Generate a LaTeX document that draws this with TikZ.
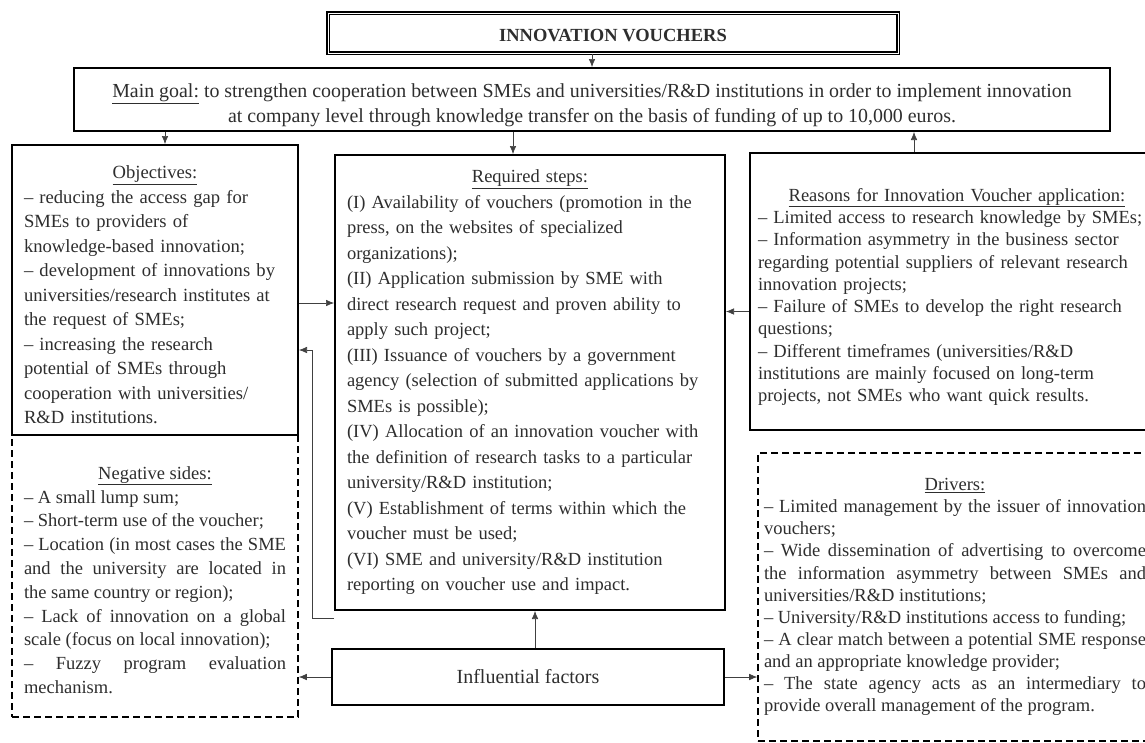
\documentclass[tikz,border=0pt]{standalone}
\usepackage{fontspec}
\setmainfont{Liberation Serif}
\usepackage{tikz}
\usetikzlibrary{arrows.meta}
\setlength{\parindent}{0pt}
\definecolor{inkgray}{HTML}{2E2E2E}

\begin{document}
\begin{tikzpicture}[x=1pt, y=-1pt,
		box/.style={draw=black, line width=1.6pt, text=inkgray, inner sep=0pt},
		dashbox/.style={box, dash pattern=on 7pt off 4pt},
		bodytext/.style={font=\fontsize{18.5}{25.3}\selectfont},
		link/.style={-{Latex[length=8pt, width=6.5pt]}, draw=black!75, line width=0.6pt}]
		\useasboundingbox[fill=white] (0,0) rectangle (1145,742);
		% Boxes:
		\node[box, double=white, double distance=1pt, line width=1.5pt, minimum width=570, minimum height=40, text height=17pt, font=\fontsize{18.5}{22}\selectfont\bfseries](title) at (613, 33){INNOVATION VOUCHERS};
		\node[box, line width=2pt, align=center, minimum width=1036, minimum height=63, text height=50pt, font=\fontsize{19.9}{25}\selectfont](main) at (592, 99.5){\underline{Main goal:} to strengthen cooperation between SMEs and universities/R\&D institutions in order to implement innovation\\at company level through knowledge transfer on the basis of funding of up to 10,000 euros.};
		\node[box, line width=2pt, text width=262pt, align=left, minimum width=286, minimum height=290, text height=23pt, font=\fontsize{18.6}{24.5}\selectfont](obj) at (155, 290){\makebox[\hsize]{\underline{Objectives:}}\\
			-- reducing the access gap for\\SMEs to providers of\\knowledge-based innovation;\\
			-- development of innovations by\\universities/research institutes at\\the request of SMEs;\\
			-- increasing the research\\potential of SMEs through\\cooperation with universities/\\R\&D institutions.};
		\node[box, line width=2pt, text width=366pt, align=left, minimum width=390, minimum height=455, font=\fontsize{18.5}{25.5}\selectfont](req) at (530, 382.5){\makebox[\hsize]{\underline{Required steps:}}\\
			(I) Availability of vouchers (promotion in the\\press, on the websites of specialized\\organizations);\\
			(II) Application submission by SME with\\direct research request and proven ability to\\apply such project;\\
			(III) Issuance of vouchers by a government\\agency (selection of submitted applications by\\SMEs is possible);\\
			(IV) Allocation of an innovation voucher with\\the definition of research tasks to a particular\\university/R\&D institution;\\
			(V) Establishment of terms within which the\\voucher must be used;\\
			(VI) SME and university/R\&D institution\\reporting on voucher use and impact.};
		\node[box, text width=398pt, align=left, minimum width=414, minimum height=277, text height=24pt, font=\fontsize{18.5}{22.3}\selectfont](reas) at (957, 291.5){\makebox[\hsize]{\underline{Reasons for Innovation Voucher application:}}\\
			-- Limited access to research knowledge by SMEs;\\
			-- Information asymmetry in the business sector\\regarding potential suppliers of relevant research\\innovation projects;\\
			-- Failure of SMEs to develop the right research\\questions;\\
			-- Different timeframes (universities/R\&D\\institutions are mainly focused on long-term\\projects, not SMEs who want quick results.};
		\node[dashbox, text width=262pt, align=justify, minimum width=286, minimum height=282, text height=21pt, font=\fontsize{18.5}{23.8}\selectfont](neg) at (155, 576){\makebox[\hsize]{\underline{Negative sides:}}\\
			-- A small lump sum;\\
			-- Short-term use of the voucher;\\
			-- Location (in most cases the SME\linebreak and the university are located in\linebreak the same country or region);\\
			-- Lack of innovation on a global\linebreak scale (focus on local innovation);\\
			-- Fuzzy program evaluation\linebreak mechanism.};
		\node[dashbox, text width=382pt, align=justify, minimum width=394, minimum height=288, font=\fontsize{18.5}{22.1}\selectfont](drv) at (955, 597){\makebox[\hsize]{\underline{Drivers:}}\\
			-- Limited management by the issuer of innovation\linebreak vouchers;\\
			-- Wide dissemination of advertising to overcome\linebreak the information asymmetry between SMEs and\linebreak universities/R\&D institutions;\\
			-- University/R\&D institutions access to funding;\\
			-- A clear match between a potential SME response\linebreak and an appropriate knowledge provider;\\
			-- The state agency acts as an intermediary to\linebreak provide overall management of the program.};
		\node[box, line width=2.4pt, minimum width=392, minimum height=56, font=\fontsize{20}{24}\selectfont](infl) at (528, 677){Influential factors};
		% Connectors:
		\draw[link] (title.south -| main.north) -- (main.north);
		\draw[link] ([xshift=10pt]obj.north |- main.south) -- ([xshift=10pt]obj.north);
		\draw[link] ([xshift=-17pt]req.north |- main.south) -- ([xshift=-17pt]req.north);
		\draw[link] ([xshift=-43pt]reas.north) -- ([xshift=-43pt]reas.north |- main.south);
		\draw[link] ([yshift=-13pt]obj.east) -- ([yshift=-13pt]obj.east -| req.west);
		\draw[link] ([yshift=-20pt]reas.west) -- ([yshift=-20pt]reas.west -| req.east);
		\draw[link] ([yshift=-7pt]req.south west) -- ++(-22,0) |- ([yshift=-60pt]obj.east);
		\draw[link] ([xshift=7pt]infl.north) -- ([xshift=7pt]infl.north |- req.south);
		\draw[link] (infl.west) -- (infl.west -| neg.east);
		\draw[link] (infl.east) -- (infl.east -| drv.west);
	\end{tikzpicture}
\end{document}
